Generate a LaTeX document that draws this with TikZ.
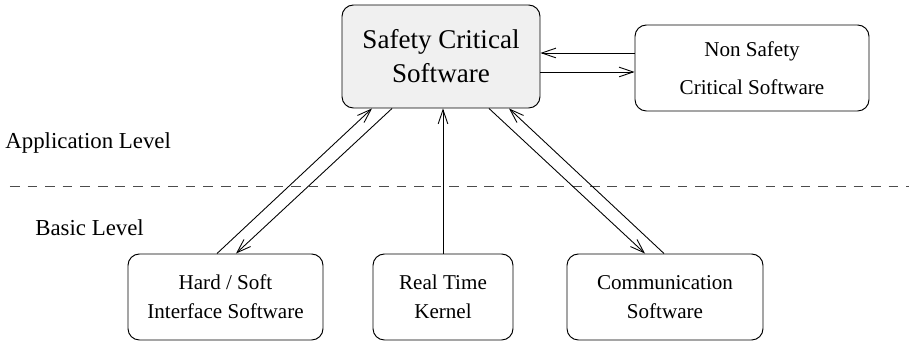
\documentclass[tikz,border=0pt]{standalone}
\usepackage{fontspec}
\setmainfont{Liberation Serif}
\usepackage{tikz}
\usetikzlibrary{
  positioning,
  arrows.meta
}

\begin{document}
\begin{tikzpicture}[
    font=\fontsize{12}{16.5}\selectfont,
    >={Straight Barb[length=8pt,width=5.5pt]},
    % Box styles
    box/.style={
        rectangle, draw=black, line width=0.55pt, rounded corners=6.5pt,
        align=center, fill=white, inner sep=0pt, minimum height=1.72cm
    },
    main/.style={box, fill=black!6, font=\fontsize{15.4}{19.4}\selectfont},
    % Label style
    lvl/.style={anchor=west, inner sep=0pt, font=\fontsize{13}{15}\selectfont},
    % Arrow styles
    arr/.style={->, line width=0.5pt, draw=black},
    sep/.style={dashed, dash pattern=on 5.5pt off 4.5pt, line width=0.5pt, draw=black!70}
]
\useasboundingbox (0, 0) rectangle (18.18, 6.88);

% ==========================================
% NODES & PLACEMENT
% ==========================================

% --- Application Level ---
\node[main, minimum width=3.96cm, minimum height=2.06cm] (scs) at (8.82, 5.75) {Safety Critical\\Software};
\node[box, minimum width=4.68cm, font=\fontsize{12}{21.6}\selectfont] (nscs) at (15.04, 5.52) {Non Safety\\Critical Software};

% --- Basic Level ---
\node[box, minimum width=3.9cm] (hsi) at (4.51, 0.94) {Hard / Soft\\Interface Software};
\node[box, minimum width=2.8cm] (rtk) at (8.86, 0.94) {Real Time\\Kernel};
\node[box, minimum width=3.92cm] (com) at (13.3, 0.94) {Communication\\Software};

% --- Levels ---
\coordinate (sep_l) at (0.2, 3.16);
\coordinate (sep_r) at (18.18, 3.16);
\draw[sep] (sep_l) -- (sep_r);
\node[lvl] (app) at (0.1, 4.02) {Application Level};
\node[lvl] (basic) at (0.7, 2.32) {Basic Level};

% ==========================================
% ROUTING & ARROWS
% ==========================================

% 1. Safety critical <-> non safety critical
\draw[arr] ([yshift=0.3cm]nscs.west) -- ([yshift=0.3cm]nscs.west -| scs.east);
\draw[arr] ([yshift=-0.08cm]nscs.west -| scs.east) -- ([yshift=-0.08cm]nscs.west);

% 2. Hard / soft interface <-> safety critical
\draw[arr] ([xshift=-0.17cm]hsi.north) -- ([xshift=-1.38cm]scs.south);
\draw[arr] ([xshift=-0.98cm]scs.south) -- ([xshift=0.21cm]hsi.north);

% 3. Kernel to safety critical
\draw[arr] (rtk.north) -- (rtk.north |- scs.south);

% 4. Communication <-> safety critical
\draw[arr] ([xshift=0.96cm]scs.south) -- ([xshift=-0.4cm]com.north);
\draw[arr] ([xshift=-0.02cm]com.north) -- ([xshift=1.36cm]scs.south);

\end{tikzpicture}
\end{document}
